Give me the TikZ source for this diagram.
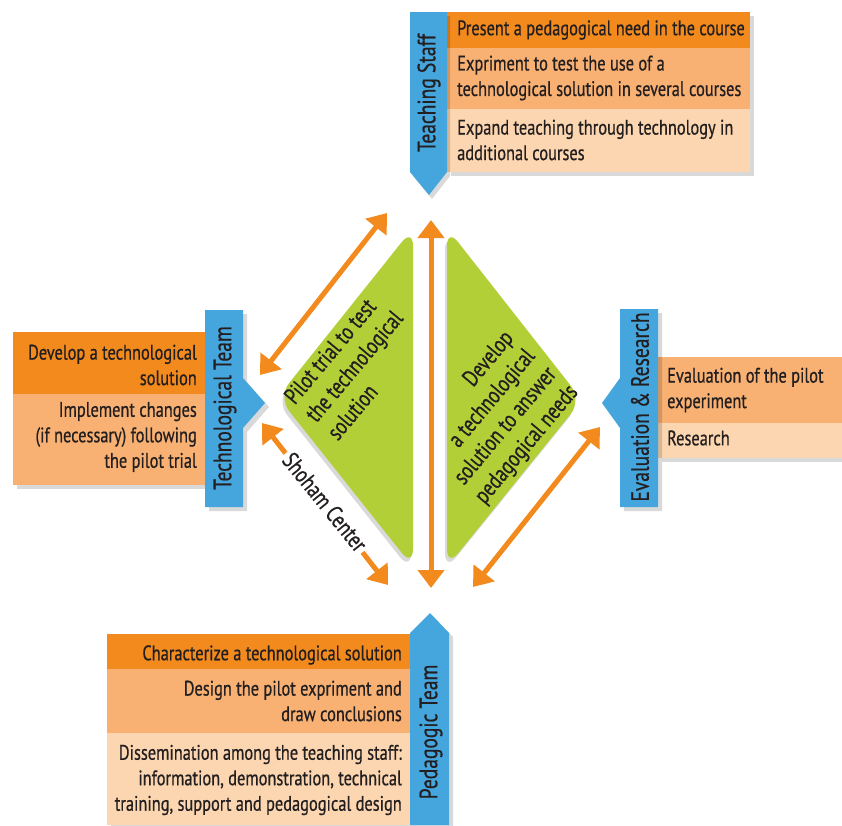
\documentclass[tikz,border=0pt]{standalone}
\usepackage{fontspec}
\setmainfont{PT Sans}[FakeStretch=0.78,FakeBold=0.6]
\usetikzlibrary{arrows.meta}
\definecolor{cA}{HTML}{F28A1E}
\definecolor{cB}{HTML}{F8B172}
\definecolor{cC}{HTML}{FCD6B0}
\definecolor{bl}{HTML}{45A5DD}
\definecolor{gr}{HTML}{B3CF37}
\definecolor{ar}{HTML}{F28A1E}
\definecolor{txt}{HTML}{231F20}
\begin{document}
\begin{tikzpicture}[x=1pt,y=-1pt,
  rowtext/.style={font=\fontsize{21}{25.5}\selectfont, text=txt, inner sep=0pt},
  midtext/.style={font=\fontsize{23.5}{28}\selectfont, text=txt, inner sep=0pt},
  lab/.style={font=\fontsize{25}{30}\selectfont, text=txt, rotate=90, inner sep=0pt},
  biarrow/.style={draw=ar, line width=5pt, {Triangle[width=26pt,length=18pt]}-{Triangle[width=26pt,length=18pt]}},
  shade/.style={fill=black, opacity=0.15},
  greenshape/.style={fill=gr, rounded corners=18pt},
  greenshade/.style={fill=black, opacity=0.15, rounded corners=18pt}]
\useasboundingbox (0,0) rectangle (842,825);

% ---------- Teaching Staff ----------
\fill[shade] (451,16) rectangle (754,176);
\fill[cA] (447,12) rectangle (750,48);
\fill[cB] (447,48) rectangle (750,109);
\fill[cC] (447,109) rectangle (750,172);
\fill[shade] (413,16) -- (450,16) -- (450,176) -- (432,199) -- (413,176) -- cycle;
\fill[bl] (410,12) -- (447,12) -- (447,172) -- (429,195) -- (410,172) -- cycle;
\node[lab] (ts) at (429,93) {Teaching Staff};
\node[rowtext, anchor=west] (ts1) at (457,30) {Present a pedagogical need in the course};
\node[rowtext, anchor=west, align=left] (ts2) at (457,78) {Expriment to test the use of a\\technological solution in several courses};
\node[rowtext, anchor=west, align=left] (ts3) at (457,140) {Expand teaching through technology in\\additional courses};

% ---------- Technological Team ----------
\fill[shade] (17,336) rectangle (209,489);
\fill[cA] (13,332) rectangle (205,394);
\fill[cB] (13,394) rectangle (205,485);
\fill[shade] (209,314) -- (247,314) -- (247,382) -- (269,407) -- (247,432) -- (247,511) -- (209,511) -- cycle;
\fill[bl] (205,310) -- (243,310) -- (243,378) -- (265,403) -- (243,428) -- (243,507) -- (205,507) -- cycle;
\node[lab] (tt) at (225,408) {Technological Team};
\node[rowtext, anchor=east, align=right] (tt1) at (197,365) {Develop a technological\\solution};
\node[rowtext, anchor=east, align=right] (tt2) at (197,437) {Implement changes\\(if necessary) following\\the pilot trial};

% ---------- Evaluation & Research ----------
\fill[shade] (662,361) rectangle (846,462);
\fill[cB] (658,357) rectangle (842,423);
\fill[cC] (658,423) rectangle (842,458);
\fill[shade] (624,313) -- (662,313) -- (662,511) -- (624,511) -- (624,432) -- (606,407) -- (624,382) -- cycle;
\fill[bl] (620,309) -- (658,309) -- (658,507) -- (620,507) -- (620,428) -- (602,403) -- (620,378) -- cycle;
\node[lab] (er) at (640,407) {Evaluation \& Research};
\node[rowtext, anchor=west, align=left] (er1) at (667,390) {Evaluation of the pilot\\experiment};
\node[rowtext, anchor=west] (er2) at (667,438) {Research};

% ---------- Pedagogic Team ----------
\fill[shade] (111,638) rectangle (414,829);
\fill[cA] (107,634) rectangle (410,669);
\fill[cB] (107,669) rectangle (410,733);
\fill[cC] (107,733) rectangle (410,825);
\fill[shade] (414,637) -- (434,617) -- (453,637) -- (453,829) -- (414,829) -- cycle;
\fill[bl] (410,633) -- (430,613) -- (449,633) -- (449,825) -- (410,825) -- cycle;
\node[lab] (pt) at (431,732) {Pedagogic Team};
\node[rowtext, anchor=east] (pt1) at (402,655) {Characterize a technological solution};
\node[rowtext, anchor=east, align=right] (pt2) at (402,701) {Design the pilot expriment and\\draw conclusions};
\node[rowtext, anchor=east, align=right] (pt3) at (402,780) {Dissemination among the teaching staff:\\information, demonstration, technical\\training, support and pedagogical design};

% ---------- Central green shapes ----------
\fill[greenshade] (411,232) -- (276,401) -- (411,571) -- cycle;
\fill[greenshade] (445,232) -- (580,404) -- (445,571) -- cycle;
\fill[greenshape] (413,228) -- (278,397) -- (413,567) -- cycle;
\fill[greenshape] (447,228) -- (582,400) -- (447,567) -- cycle;
\node[midtext, rotate=50, align=left] (gl) at (354,366) {Pilot trial to test\\the technological\\solution};
\node[midtext, rotate=50, align=right] (gr) at (495,418) {Develop\\a technological\\solution to answer\\pedagogical needs};

% ---------- Arrows ----------
\coordinate (v1) at (431,220);
\coordinate (v2) at (431,588);
\coordinate (ul1) at (387,213);
\coordinate (ul2) at (260,375);
\coordinate (ll1) at (262,423);
\coordinate (ll2) at (388,585);
\coordinate (lr1) at (600,427);
\coordinate (lr2) at (473,587);
\draw[biarrow] (v1) -- (v2);
\draw[biarrow] (ul1) -- (ul2);
\draw[biarrow] (ll1) -- (ll2);
\draw[biarrow] (lr1) -- (lr2);
\node[midtext, rotate=-51, fill=white, inner sep=3pt] (sc) at (325,502) {Shoham Center};
\end{tikzpicture}
\end{document}
